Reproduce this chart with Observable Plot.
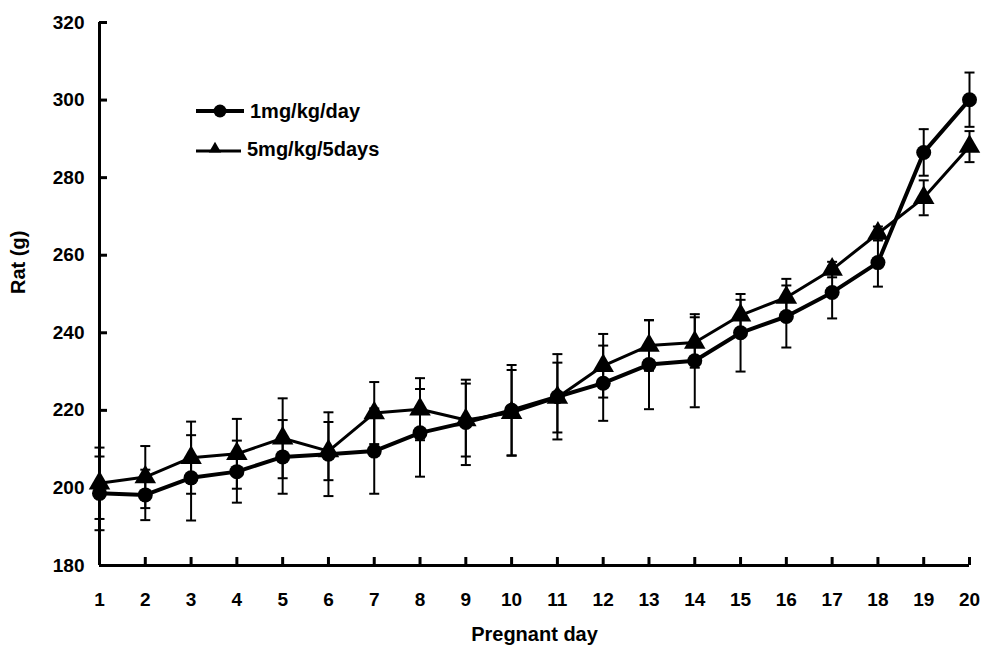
<!DOCTYPE html>
<html><head><meta charset="utf-8">
<script src="https://cdn.jsdelivr.net/npm/d3@7"></script>
<script src="https://cdn.jsdelivr.net/npm/@observablehq/plot@0.6"></script>
<style>
body{margin:0;background:#fff;}
#wrap{position:relative;width:981px;height:649px;font-family:"Liberation Sans",Arial,sans-serif;}
#legend{position:absolute;left:190px;top:92px;}
.row{display:flex;align-items:center;height:38px;font-size:20px;font-weight:bold;color:#000;}
.row svg{margin-right:4px;}
</style></head><body><div id="wrap"></div>
<script>
const days = [1,2,3,4,5,6,7,8,9,10,11,12,13,14,15,16,17,18,19,20];
const seriesNames = ["1mg/kg/day", "5mg/kg/5days"];
const dose1Mean = [198.6,198.2,202.6,204.2,208.0,208.7,209.5,214.2,216.9,220.0,223.5,227.0,231.8,232.8,240.0,244.2,250.4,258.1,286.5,300.1];
const dose1Err  = [9.5,6.5,11,8,9.5,10.8,11,11.3,11,11.7,11,9.7,11.5,12,10,8,6.7,6.2,6,7];
const dose5Mean = [201.2,202.8,207.8,208.8,212.8,209.5,219.3,220.3,217.5,219.4,223.3,231.5,236.7,237.5,244.5,249.1,256.3,265.6,274.8,288.0];
const dose5Err  = [9.2,8,9.3,9,10.3,7.5,8,8,9.4,11,9,8.2,6.5,6.5,4,4.8,2,1.8,4.5,4];
const yTicks = [180,200,220,240,260,280,300,320];
const xLabel = "Pregnant day";
const yLabel = "Rat (g)";

const d1 = days.map((d,i)=>({day:d, mean:dose1Mean[i], err:dose1Err[i]}));
const d5 = days.map((d,i)=>({day:d, mean:dose5Mean[i], err:dose5Err[i]}));
const both = d1.concat(d5);

const capSymbol = {draw(c, s){ const r = Math.sqrt(s/Math.PI); c.moveTo(-r,0); c.lineTo(r,0); }};
const font = {fontFamily:"Liberation Sans, Arial, sans-serif", fontWeight:"bold"};
const x0 = days[0], xN = days[days.length-1], y0 = yTicks[0], yN = yTicks[yTicks.length-1];

const chart = Plot.plot({
  width: 981, height: 649,
  marginLeft: 99, marginRight: 12, marginTop: 22, marginBottom: 84,
  style: {fontFamily:"Liberation Sans, Arial, sans-serif", color:"#000", background:"#fff"},
  x: {type:"linear", domain:[x0, xN]},
  y: {domain:[y0, yN]},
  marks: [
    // axis lines
    Plot.ruleX([x0], {y1: y0, y2: yN, strokeWidth: 3, stroke:"#000"}),
    Plot.ruleY([y0], {x1: x0, x2: xN, strokeWidth: 3, stroke:"#000"}),
    // inward tick marks
    Plot.ruleY(yTicks, {y: d=>d, x1: x0, x2: x0, insetRight: -8, strokeWidth: 3, stroke:"#000"}),
    Plot.ruleX(days.slice(1), {x: d=>d, y1: y0, y2: y0, insetTop: -8, strokeWidth: 3, stroke:"#000"}),
    // tick labels
    Plot.axisX({ticks: days, tickSize: 0, tickPadding: 27, tickFormat: d=>String(d), fontSize: 19, ...font, label: null}),
    Plot.axisY({ticks: yTicks, tickSize: 0, tickPadding: 15, tickFormat: d=>String(d), fontSize: 19, ...font, label: null}),
    Plot.text([xLabel], {frameAnchor:"bottom", lineAnchor:"middle", dy: 69, fontSize: 20, ...font}),
    Plot.text([yLabel], {frameAnchor:"left", dx: -81, rotate: -90, fontSize: 20, ...font}),
    // error bars
    Plot.ruleX(both, {x:"day", y1: d=>d.mean-d.err, y2: d=>d.mean+d.err, stroke:"#000", strokeWidth: 2}),
    Plot.dot(both, {x:"day", y: d=>d.mean+d.err, symbol: capSymbol, r: 5, stroke:"#000", strokeWidth: 2, fill:"none"}),
    Plot.dot(both, {x:"day", y: d=>d.mean-d.err, symbol: capSymbol, r: 5, stroke:"#000", strokeWidth: 2, fill:"none"}),
    // lines
    Plot.line(d5, {x:"day", y:"mean", stroke:"#000", strokeWidth: 3}),
    Plot.line(d1, {x:"day", y:"mean", stroke:"#000", strokeWidth: 4}),
    Plot.dot(d5, {x:"day", y:"mean", symbol:"triangle", r: 8, fill:"#000", stroke:"none"}),
    Plot.dot(d1, {x:"day", y:"mean", symbol:"circle", r: 7.5, fill:"#000", stroke:"none"})
  ]
});

const wrap = document.getElementById("wrap");
wrap.appendChild(chart);
const legend = document.createElement("div");
legend.id = "legend";
const tri = d3.symbol(d3.symbolTriangle2, 110)();
legend.innerHTML =
  `<div class="row"><svg width="56" height="20"><line x1="6" y1="10" x2="54" y2="10" stroke="#000" stroke-width="4"/><circle cx="30" cy="10" r="6.5" fill="#000"/></svg><span>${seriesNames[0]}</span></div>` +
  `<div class="row"><svg width="53" height="20"><line x1="6" y1="12" x2="51" y2="12" stroke="#000" stroke-width="3"/><path transform="translate(25,10)" d="${tri}" fill="#000"/></svg><span>${seriesNames[1]}</span></div>`;
wrap.appendChild(legend);
</script></body></html>
